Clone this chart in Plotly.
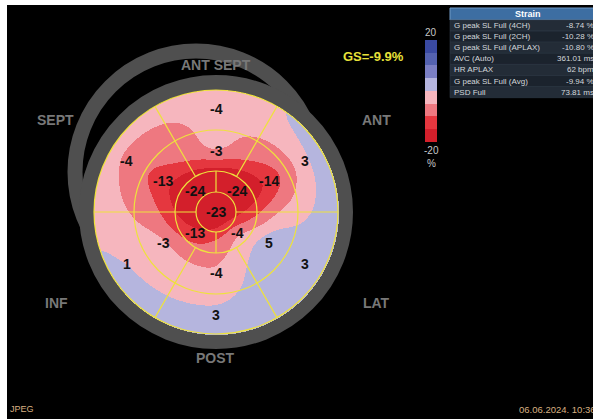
import numpy as np
import plotly.graph_objects as go

W, H = 593, 419
CX, CY = 216, 212          # bull's-eye centre (pixel coordinates)
R_APEX, R_APICAL, R_MID, R_BASAL = 20, 41, 82, 122

# ---- 17-segment peak systolic longitudinal strain (%) ----
apex_value = -23
apical_angles = [45, 135, 225, 315]
apical_values = [-24, -24, -13, -4]
ring_angles = [30, 90, 150, 210, 270, 330]
mid_values = [-14, -3, -13, -3, -4, 5]
basal_values = [3, -4, -4, 1, 3, 3]

# ---- colour scale (-20 .. 20 %, 5 % steps) ----
band_edges = [-20, -15, -10, -5, 0, 5, 10, 15, 20]
band_colors = ["#d31f2b", "#e5373f", "#ee7880", "#f6b6be",
               "#b5b5de", "#7b7fc4", "#5462b0", "#3a4aa2"]

# ---- orientation labels ----
wall_names = ["ANT SEPT", "SEPT", "ANT", "INF", "LAT", "POST"]
wall_pos = [(216, 65), (55, 120), (376, 120), (56, 303), (376, 303), (215, 358)]

# ---- measurement table ----
table_title = "Strain"
table_labels = ["G peak SL Full (4CH)", "G peak SL Full (2CH)", "G peak SL Full (APLAX)",
                "AVC (Auto)", "HR APLAX", "G peak SL Full (Avg)", "PSD Full"]
table_values = ["-8.74 %", "-10.28 %", "-10.80 %", "361.01 ms", "62 bpm", "-9.94 %", "73.81 ms"]
global_strain = "GS=-9.9%"


def around(theta, centres, vals):
    """Periodic linear interpolation of ring values over the angle."""
    c = np.asarray(centres, float)
    v = np.asarray(vals, float)
    c_ext = np.concatenate([c, [c[0] + 360]])
    v_ext = np.concatenate([v, [v[0]]])
    t = (theta - c[0]) % 360 + c[0]
    return np.interp(t, c_ext, v_ext)


def blur(img, sigma):
    """Separable Gaussian smoothing of the strain map."""
    k = np.arange(-3 * int(sigma), 3 * int(sigma) + 1)
    g = np.exp(-0.5 * (k / sigma) ** 2)
    g /= g.sum()
    pad = len(k) // 2
    out = np.pad(img, pad, mode="edge")
    out = np.apply_along_axis(lambda m: np.convolve(m, g, mode="valid"), 1, out)
    out = np.apply_along_axis(lambda m: np.convolve(m, g, mode="valid"), 0, out)
    return out


# strain map over the polar plot
xs = np.arange(CX - 123, CX + 124)
ys = np.arange(CY - 123, CY + 124)
X, Y = np.meshgrid(xs, ys)
DX, DY = X - CX, CY - Y
R = np.hypot(DX, DY)
TH = np.degrees(np.arctan2(DY, DX)) % 360

A = around(TH, apical_angles, apical_values)
M = around(TH, ring_angles, mid_values)
B = around(TH, ring_angles, basal_values)
r_ap, r_mid, r_bas = 30, 63, 116
Z = np.where(R <= r_ap, apex_value + (A - apex_value) * R / r_ap,
     np.where(R <= r_mid, A + (M - A) * (R - r_ap) / (r_mid - r_ap),
      np.where(R <= r_bas, M + (B - M) * (R - r_mid) / (r_bas - r_mid), B)))
Z = blur(Z, 6.0)
Z = np.round(Z, 2)
Z[R > R_BASAL + 0.5] = np.nan

zmin, zmax = band_edges[0], band_edges[-1]
colorscale = []
for i, col in enumerate(band_colors):
    lo = (band_edges[i] - zmin) / (zmax - zmin)
    hi = (band_edges[i + 1] - zmin) / (zmax - zmin)
    colorscale += [[lo, col], [hi, col]]

fig = go.Figure()
fig.add_trace(go.Heatmap(
    x=xs, y=ys, z=Z, zmin=zmin, zmax=zmax, colorscale=colorscale,
    hoverinfo="skip", zsmooth=False,
    colorbar=dict(x=425 / W, xanchor="left", y=1 - 40.5 / H, yanchor="top",
                  lenmode="pixels", len=102, thickness=12, xpad=0, ypad=0,
                  outlinewidth=0, showticklabels=False, ticks=""),
))

shapes = []
# page frame: white edge, black display
shapes.append(dict(type="rect", xref="x", yref="y", x0=7, y0=5, x1=W + 2, y1=H + 2,
                   fillcolor="black", line=dict(width=0), layer="below"))
# grey rings around the map
ring_grey = "#4f4f4f"
shapes.append(dict(type="circle", xref="x", yref="y", x0=196 - 121, x1=196 + 121,
                   y0=172 - 121, y1=172 + 121, line=dict(color=ring_grey, width=15), layer="below"))
shapes.append(dict(type="circle", xref="x", yref="y", x0=CX - 129.5, x1=CX + 129.5,
                   y0=CY - 129.5, y1=CY + 129.5, line=dict(color=ring_grey, width=15), layer="below"))

# yellow segment grid
yellow = "#eee23c"
for r in (R_APEX, R_APICAL, R_MID, R_BASAL):
    shapes.append(dict(type="circle", xref="x", yref="y", x0=CX - r, x1=CX + r,
                       y0=CY - r, y1=CY + r, line=dict(color=yellow, width=1.2), layer="above"))


def seg_line(ang, r0, r1):
    a = np.radians(ang)
    return dict(type="line", xref="x", yref="y",
                x0=CX + r0 * np.cos(a), y0=CY - r0 * np.sin(a),
                x1=CX + r1 * np.cos(a), y1=CY - r1 * np.sin(a),
                line=dict(color=yellow, width=1.2), layer="above")


for ang in (0, 180):
    shapes.append(seg_line(ang, R_APEX, R_BASAL))
for ang in (90, 270):
    shapes.append(seg_line(ang, R_APEX, R_APICAL))
for ang in (60, 120, 240, 300):
    shapes.append(seg_line(ang, R_APICAL, R_BASAL))

# table boxes
tx0, tx1 = 450, 606
shapes.append(dict(type="rect", xref="x", yref="y", x0=tx0, x1=tx1, y0=8, y1=20,
                   fillcolor="#3d6ea2", line=dict(color="#7099c4", width=1), layer="above"))
row_h = 11.1
for i in range(len(table_labels)):
    shapes.append(dict(type="rect", xref="x", yref="y", x0=tx0, x1=tx1,
                       y0=20 + i * row_h, y1=20 + (i + 1) * row_h,
                       fillcolor="#232c37" if i % 2 == 0 else "#1b232d",
                       line=dict(color="#2f3b48", width=0.6), layer="above"))

ann = []
font = "Liberation Sans, Arial, sans-serif"


def text(x, y, s, size, color, bold=False, xanchor="center"):
    ann.append(dict(x=x / W, y=1 - y / H, xref="paper", yref="paper", text=s,
                    showarrow=False, xanchor=xanchor, yanchor="middle",
                    font=dict(family=font, size=size, color=color,
                              weight="bold" if bold else "normal")))


# segment values
seg_black = "#111111"
text(CX, CY, str(apex_value), 14, seg_black, True)
for ang, v in zip(apical_angles, apical_values):
    a = np.radians(ang)
    text(CX + 30 * np.cos(a), CY - 30 * np.sin(a), str(v), 14, seg_black, True)
for ang, v in zip(ring_angles, mid_values):
    a = np.radians(ang)
    text(CX + 61 * np.cos(a), CY - 61 * np.sin(a), str(v), 14, seg_black, True)
for ang, v in zip(ring_angles, basal_values):
    a = np.radians(ang)
    text(CX + 103 * np.cos(a), CY - 103 * np.sin(a), str(v), 14, seg_black, True)

for name, (x, y) in zip(wall_names, wall_pos):
    text(x, y, name, 14, "#787878", True)

text(373, 56, global_strain, 13, "#e8e23a", True)
text(431, 33, "20", 10, "#c8c8c8")
text(431, 150, "-20", 10, "#c8c8c8")
text(431, 163, "%", 10, "#c8c8c8")

text(528, 14, table_title, 9, "#ffffff", True)
for i, (lab, val) in enumerate(zip(table_labels, table_values)):
    yc = 20 + (i + 0.5) * row_h
    text(452, yc, lab, 8, "#d4d8dc", xanchor="left")
    text(596, yc, val, 8, "#d4d8dc", xanchor="right")

text(8, 409, "JPEG", 9, "#d8b080", xanchor="left")
text(517, 409, "06.06.2024. 10:36", 9.5, "#d8b080", xanchor="left")

fig.update_layout(
    width=W, height=H, margin=dict(l=0, r=0, t=0, b=0, autoexpand=False),
    paper_bgcolor="white", plot_bgcolor="white",
    xaxis=dict(range=[0, W], visible=False, fixedrange=True),
    yaxis=dict(range=[H, 0], visible=False, fixedrange=True),
    shapes=shapes, annotations=ann, showlegend=False,
)
fig.write_html("out.html", config={"displayModeBar": False})
